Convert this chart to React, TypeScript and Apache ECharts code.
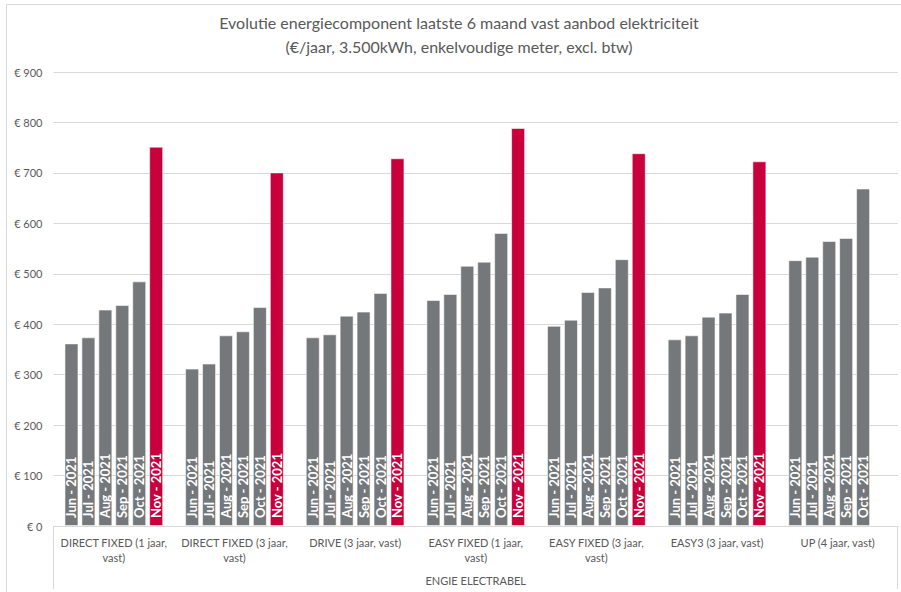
import React, { useEffect, useRef } from "react";
import * as echarts from "echarts";

const titleLines = [
  "Evolutie energiecomponent laatste 6 maand vast aanbod elektriciteit",
  "(€/jaar, 3.500kWh, enkelvoudige meter, excl. btw)",
];
const groupLabel = "ENGIE ELECTRABEL";
const products = [
  "DIRECT FIXED (1 jaar,\nvast)",
  "DIRECT FIXED (3 jaar,\nvast)",
  "DRIVE (3 jaar, vast)",
  "EASY FIXED (1 jaar,\nvast)",
  "EASY FIXED (3 jaar,\nvast)",
  "EASY3 (3 jaar, vast)",
  "UP (4 jaar, vast)",
];
const months = ["Jun - 2021", "Jul - 2021", "Aug - 2021", "Sep - 2021", "Oct - 2021", "Nov - 2021"];
const jun = [362, 312, 374, 448, 397, 370, 527];
const jul = [374, 322, 380, 460, 409, 378, 534];
const aug = [429, 378, 417, 516, 464, 415, 565];
const sep = [438, 386, 425, 524, 473, 423, 571];
const oct = [485, 434, 462, 581, 529, 460, 669];
const nov = [752, 701, 729, 789, 739, 723, null];
const yMin = 0;
const yMax = 900;
const yStep = 100;

const GRAY = "#75787b";
const RED = "#c8003c";
const TEXT = "#595959";
const LINE = "#d9d9d9";
const FONT = "Lato, 'Noto Sans', sans-serif";

export default function App() {
  const ref = useRef<HTMLDivElement>(null);
  useEffect(() => {
    if (!ref.current) return;
    const chart = echarts.init(ref.current, null, { renderer: "svg" });
    const values = [jun, jul, aug, sep, oct, nov];
    const gridLeft = 53.5;
    const gridRight = 898;
    const axisY = 526;
    chart.setOption({
      animation: false,
      textStyle: { fontFamily: FONT },
      grid: { left: gridLeft, right: 901 - gridRight, top: 72, bottom: 592 - axisY, containLabel: false },
      xAxis: {
        type: "category",
        data: products,
        axisLine: { show: true, lineStyle: { color: LINE, width: 1 } },
        axisTick: { show: false },
        axisLabel: {
          color: TEXT,
          fontSize: 11,
          fontFamily: FONT,
          lineHeight: 15,
          margin: 9,
          interval: 0,
        },
      },
      yAxis: {
        type: "value",
        min: yMin,
        max: yMax,
        interval: yStep,
        axisLine: { show: false },
        axisTick: { show: false },
        splitLine: { lineStyle: { color: LINE, width: 1 } },
        axisLabel: {
          color: TEXT,
          fontSize: 11,
          fontFamily: FONT,
          margin: 11,
          formatter: (v: number) => "€ " + v,
        },
      },
      series: months.map((m, i) => ({
        name: m,
        type: "bar",
        data: values[i],
        barWidth: 14,
        barGap: "21%",
        itemStyle: {
          color: i === 5 ? RED : GRAY,
          borderColor: "rgba(255,255,255,0.55)",
          borderWidth: 1,
        },
        label: {
          show: true,
          position: "insideBottom",
          distance: 8,
          rotate: 90,
          align: "left",
          verticalAlign: "middle",
          color: "#ffffff",
          fontWeight: "bold",
          fontSize: 13,
          fontFamily: FONT,
          formatter: () => m,
        },
      })),
      graphic: [
        {
          type: "rect",
          silent: true,
          shape: { x: 6.5, y: 4.5, width: 1000, height: 1000 },
          style: { fill: "none", stroke: LINE, lineWidth: 1 },
        },
        {
          type: "text",
          x: 459,
          y: 22,
          style: { text: titleLines[0], fill: TEXT, font: `16px ${FONT}`, align: "center", verticalAlign: "middle" },
        },
        {
          type: "text",
          x: 459,
          y: 46,
          style: { text: titleLines[1], fill: TEXT, font: `16px ${FONT}`, align: "center", verticalAlign: "middle" },
        },
        {
          type: "line",
          shape: { x1: gridLeft, y1: axisY, x2: gridLeft, y2: 589 },
          style: { stroke: LINE, lineWidth: 1 },
        },
        {
          type: "line",
          shape: { x1: 897.5, y1: axisY, x2: 897.5, y2: 589 },
          style: { stroke: LINE, lineWidth: 1 },
        },
        {
          type: "text",
          x: (gridLeft + gridRight) / 2,
          y: 580,
          style: { text: groupLabel, fill: TEXT, font: `11px ${FONT}`, align: "center", verticalAlign: "middle" },
        },
      ],
    });
    return () => chart.dispose();
  }, []);
  return (
    <div
      ref={ref}
      style={{ position: "fixed", left: 0, top: 0, width: 901, height: 592, background: "#ffffff" }}
    />
  );
}
